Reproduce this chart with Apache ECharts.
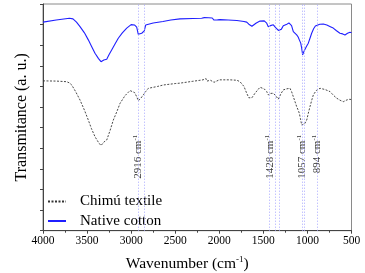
<!DOCTYPE html>
<html>
<head>
<meta charset="utf-8">
<script src="https://cdn.jsdelivr.net/npm/echarts@6/dist/echarts.min.js"></script>
<style>
    html, body {margin: 0; padding: 0; background: #fff;}
    #ftir_chart {width: 365px; height: 273px;}
</style>
</head>
<body>
<div id="ftir_chart"></div>
<script>
// 原生棉 (blue)
var cottonWn = [4000,3850,3700,3660,3620,3580,3530,3486,3450,3410,3370,3342,3310,3277,3250,3221,3180,3146,3100,3050,
    3000,2960,2937,2919,2900,2880,2860,2851,2835,2824,2750,2639,2550,2446,2300,2200,2170,2150,2120,2100,2080,2060,2040,2020,
    1990,1900,1800,1720,1689,1665,1652,1630,1614,1580,1538,1519,1490,1462,1444,1420,1387,1360,1330,1311,1295,1274,1240,1210,
    1198,1180,1160,1140,1122,1105,1092,1076,1065,1054,1040,1028,1010,990,970,952,930,910,895,860,820,780,740,707,670,631,600,
    574,545,517,500];
var cottonT = [10.12,10.22,10.31,10.28,10.12,9.90,9.60,9.26,8.95,8.61,8.35,8.20,8.28,8.32,8.55,8.77,9.08,9.34,9.60,9.83,
    10.00,9.98,9.88,9.53,9.56,9.58,9.62,9.70,9.98,10.03,10.08,10.15,10.22,10.28,10.30,10.31,10.34,10.27,10.33,10.24,10.32,10.22,10.29,10.23,
    10.24,10.22,10.20,10.15,10.12,10.02,9.97,9.92,9.94,10.08,10.17,10.23,10.18,10.07,9.90,9.95,9.99,9.85,9.72,9.66,9.78,9.94,10.00,10.08,
    10.10,9.95,9.66,9.58,9.50,9.40,9.26,9.10,8.85,8.53,8.70,8.77,8.95,9.10,9.35,9.58,9.80,9.93,9.99,10.02,10.03,9.98,9.90,9.83,9.70,9.58,9.55,
    9.50,9.58,9.63,9.60];

// 奇穆纺织品 (black dashed)
var textileWn = [4000,3850,3731,3700,3674,3630,3580,3530,3486,3450,3410,3370,3342,3310,3277,3240,3202,3160,3126,3070,
    3013,2994,2960,2937,2919,2895,2862,2835,2805,2700,2635,2500,2446,2300,2185,2170,2150,2140,2100,2060,2040,2000,
    1878,1800,1765,1720,1689,1665,1652,1630,1595,1560,1538,1519,1490,1462,1444,1420,1387,1360,1331,1300,1274,1240,
    1198,1180,1160,1140,1122,1105,1092,1080,1065,1047,1030,1008,990,971,950,933,900,857,800,744,700,668,630,593,550,517,500];
var textileT = [7.27,7.26,7.23,7.17,7.07,6.75,6.34,5.85,5.37,4.95,4.56,4.28,4.13,4.30,4.40,4.85,5.37,5.80,6.18,6.55,
    6.80,6.83,6.70,6.50,6.31,6.40,6.59,6.75,6.91,7.00,7.07,7.14,7.16,7.25,7.32,7.30,7.38,7.26,7.30,7.20,7.29,7.32,
    7.32,7.30,7.23,7.00,6.67,6.45,6.39,6.45,6.67,6.85,6.96,6.96,6.88,6.75,6.59,6.66,6.67,6.55,6.38,6.65,6.83,6.88,
    6.91,6.75,6.50,6.25,6.02,5.85,5.70,5.45,5.13,5.05,5.20,5.37,5.70,6.02,6.35,6.59,6.80,6.91,6.85,6.75,6.55,6.43,6.33,6.26,6.35,6.38,6.35];

var seriesNames = ['Chimú textile', 'Native cotton'];
var peakLines = [2916, 2850, 1428, 1370, 1315, 1057, 1035, 894];
var peakLabels = [2916, 1428, 1057, 894];
var peakLabelT = 4.85;

function zipData(xs, ys) {
    var data = [];
    for (var i = 0; i < xs.length; i++) {
        data.push([xs[i], ys[i]]);
    }
    return data;
}

function initFtirChart() {
    var myChart = echarts.init(document.getElementById('ftir_chart'));
    var font = 'Liberation Serif';

    var option = {
        animation: false,
        backgroundColor: '#fff',
        grid: {left: 43, top: 4, right: 13.5, bottom: 42.3, show: true, borderColor: '#8a8a8a', borderWidth: 1,
            containLabel: false, outerBoundsMode: 'none'},
        legend: {
            orient: 'vertical', left: 42, top: 189, itemWidth: 18, itemHeight: 14, itemGap: 4.5,
            itemStyle: {opacity: 0},
            textStyle: {fontFamily: font, fontSize: 15, color: '#000', padding: [0, 0, 0, 9]},
            data: seriesNames
        },
        xAxis: {
            type: 'value', inverse: true, min: 500, max: 4000, interval: 500,
            name: '{a|Wavenumber (cm}{s|-1}{a|)}', nameLocation: 'middle', nameGap: 24,
            nameTextStyle: {padding: [0, 20, 0, 0], rich: {
                a: {fontFamily: font, fontSize: 15.5, color: '#000', lineHeight: 18},
                s: {fontFamily: font, fontSize: 9, color: '#000', verticalAlign: 'top', lineHeight: 18, padding: [0, 0, 8, 0]}
            }},
            axisLine: {lineStyle: {color: '#444', width: 1}},
            axisTick: {inside: false, length: 3, lineStyle: {color: '#444'}},
            minorTick: {show: true, splitNumber: 2, length: 2, lineStyle: {color: '#444'}},
            axisLabel: {fontFamily: font, fontSize: 11.5, color: '#000', margin: 4,
                formatter: function (v) { return String(v); }},
            splitLine: {show: false}
        },
        yAxis: {
            type: 'value', min: 0, max: 11, interval: 1,
            name: 'Transmitance (a. u.)', nameLocation: 'middle', nameGap: 13,
            nameTextStyle: {fontFamily: font, fontSize: 16, color: '#000'},
            axisLine: {show: true, lineStyle: {color: '#444', width: 1}},
            axisTick: {show: true, inside: false, length: 3, lineStyle: {color: '#444'}},
            axisLabel: {show: false},
            splitLine: {show: false}
        },
        series: [
            {
                name: seriesNames[0], type: 'line', symbol: 'none', z: 3,
                lineStyle: {color: '#333', width: 0.9, type: [2, 1.5]},
                itemStyle: {color: '#333'},
                data: zipData(textileWn, textileT),
                markLine: {
                    silent: true, symbol: ['none', 'none'],
                    label: {show: false},
                    lineStyle: {color: '#a8a8ff', width: 1, type: [1, 2]},
                    data: peakLines.map(function (w) { return {xAxis: w}; })
                }
            },
            {
                name: seriesNames[1], type: 'line', symbol: 'none', z: 4,
                lineStyle: {color: '#1f1fff', width: 1.1},
                itemStyle: {color: '#1f1fff'},
                data: zipData(cottonWn, cottonT)
            },
            {
                name: 'peaks', type: 'scatter', symbolSize: 0, silent: true,
                data: peakLabels.map(function (w) { return [w, peakLabelT]; }),
                label: {
                    show: true, position: 'inside', rotate: 90, align: 'right', verticalAlign: 'middle', offset: [-4, 0],
                    formatter: function (p) { return '{n|' + p.value[0] + ' cm}{s|-1}'; },
                    rich: {
                        n: {fontFamily: font, fontSize: 11, color: '#000', lineHeight: 13},
                        s: {fontFamily: font, fontSize: 7, color: '#000', verticalAlign: 'top', lineHeight: 13, padding: [0, 0, 6, 0]}
                    }
                }
            }
        ]
    };

    myChart.setOption(option);
}

initFtirChart();
</script>
</body>
</html>
